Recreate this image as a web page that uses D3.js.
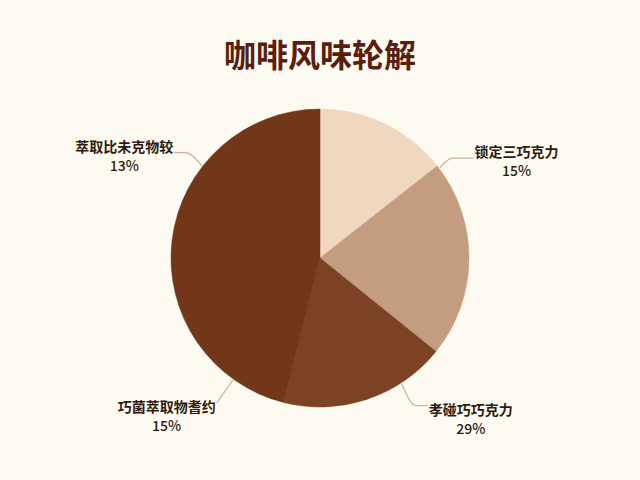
<!DOCTYPE html>
<html>
<head>
<meta charset="utf-8">
<script src="https://cdn.jsdelivr.net/npm/d3@7"></script>
<style>
  body { margin: 0; background: #fdfaf1; }
  svg { display: block; }
</style>
</head>
<body>
<svg id="chart" width="640" height="480"></svg>
<script>
// slice sizes as drawn (share of the circle), labels as printed
const names = ['锁定三巧克力', '孝碰巧巧克力', '巧菌萃取物耆约', '萃取比未克物较']
const shares = [14.4, 21.4, 18.1, 46.1]
const pctLabels = ['15%', '29%', '15%', '13%']
const colors = ['#f0d7bf', '#c49c80', '#7b4223', '#723619']

// leader layout (degrees clockwise from 12 o'clock)
const leaderAngles = [53, 147, 215.5, 308]
const leaderOut = [17, 27, 29, 22]
const leaderTail = [21, 12, 0, 11]

const width = 640, height = 480
const cx = 320, cy = 258, radius = 149

const svg = d3.select('#chart')

svg.append('rect')
  .attr('width', width)
  .attr('height', height)
  .attr('fill', '#fdfaf1')

svg.append('text')
  .attr('x', cx)
  .attr('y', 67)
  .attr('text-anchor', 'middle')
  .attr('font-family', '"Noto Sans CJK SC", sans-serif')
  .attr('font-size', 32)
  .attr('font-weight', 700)
  .attr('fill', '#5b1d0c')
  .text('咖啡风味轮解')

const pie = d3.pie().sort(null).value(d => d)
const arc = d3.arc().innerRadius(0).outerRadius(radius)

const g = svg.append('g').attr('transform', `translate(${cx},${cy})`)

g.selectAll('path')
  .data(pie(shares))
  .enter()
  .append('path')
  .attr('fill', (d, i) => colors[i])
  .attr('stroke', (d, i) => colors[i])
  .attr('stroke-width', 0.5)
  .attr('d', arc)

function polar(deg, r) {
  const a = deg * Math.PI / 180
  return [r * Math.sin(a), -r * Math.cos(a)]
}

const labels = g.append('g').attr('class', 'labels')

names.forEach((name, i) => {
  const deg = leaderAngles[i]
  const right = deg < 180
  const top = deg < 90 || deg > 270
  const p0 = polar(deg, radius + 1)
  const p1 = polar(deg, radius + leaderOut[i])
  const p2 = [p1[0] + (right ? leaderTail[i] : -leaderTail[i]), p1[1]]

  labels.append('path')
    .attr('d', d3.line().curve(d3.curveMonotoneX)([p0, p1, p2].sort((a, b) => a[0] - b[0])))
    .attr('fill', 'none')
    .attr('stroke', '#c9b29b')
    .attr('stroke-width', 1.2)

  const tx = right ? p2[0] + 1 : p2[0] - 1
  const ty = top ? p2[1] - 1 : p2[1] + 9

  const line1 = labels.append('text')
    .attr('x', tx)
    .attr('y', ty)
    .attr('text-anchor', right ? 'start' : 'end')
    .attr('font-family', '"Noto Sans CJK SC", sans-serif')
    .attr('font-size', 14)
    .attr('font-weight', 700)
    .attr('fill', '#2e1a10')
    .text(name)

  const box = line1.node().getBBox()
  labels.append('text')
    .attr('x', box.x + box.width / 2)
    .attr('y', ty + 19)
    .attr('text-anchor', 'middle')
    .attr('font-family', '"Noto Sans CJK SC", sans-serif')
    .attr('font-size', 14)
    .attr('font-weight', 500)
    .attr('fill', '#2e1a10')
    .text(pctLabels[i])
})
</script>
</body>
</html>
